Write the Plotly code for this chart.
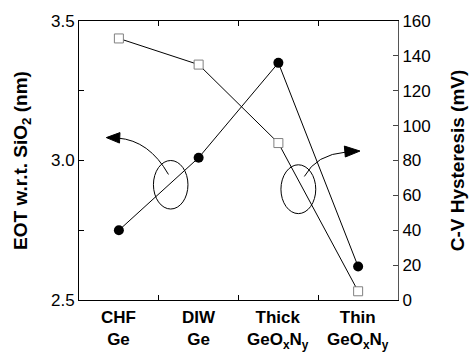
import plotly.graph_objects as go

categories = ["CHF<br>Ge", "DIW<br>Ge", "Thick<br>GeO<sub>x</sub>N<sub>y</sub>", "Thin<br>GeO<sub>x</sub>N<sub>y</sub>"]
eot_nm = [2.75, 3.01, 3.35, 2.62]
hysteresis_mv = [150, 135, 90, 5]
eot_ticks = [2.5, 2.75, 3.0, 3.25, 3.5]
eot_ticklabels = ["2.5", "", "3.0", "", "3.5"]

W, H = 476, 356
L, R, T, B = 79, 406, 20, 300

FONT = "Liberation Sans, Arial, sans-serif"

xpos = list(range(len(categories)))
boundaries = [i + 0.5 for i in xpos[:-1]]
xrange_ = [-0.5, len(categories) - 0.5]

fig = go.Figure()
fig.add_trace(go.Scatter(
    x=xpos, y=hysteresis_mv, yaxis="y2", mode="lines+markers",
    line=dict(color="black", width=1),
    marker=dict(symbol="square", size=9, color="white", line=dict(color="#808080", width=1)),
    showlegend=False, cliponaxis=False))
fig.add_trace(go.Scatter(
    x=xpos, y=eot_nm, mode="lines+markers",
    line=dict(color="black", width=1),
    marker=dict(symbol="circle", size=10, color="black"),
    showlegend=False, cliponaxis=False))


def P(px, py):
    return (px - L) / (R - L), (B - py) / (B - T)


shapes = []
for (x0, x1, y0, y1) in [(155.3, 190.7, 160, 208.7), (286, 321.7, 164.3, 213.3)]:
    a = P(x0, y1)
    b = P(x1, y0)
    shapes.append(dict(type="circle", xref="paper", yref="paper", x0=a[0], y0=a[1], x1=b[0], y1=b[1],
                       line=dict(color="black", width=1)))


def qpath(p0, c, p1):
    a, b, d = P(*p0), P(*c), P(*p1)
    return f"M {a[0]},{a[1]} Q {b[0]},{b[1]} {d[0]},{d[1]}"


def tri(p0, p1, p2):
    a, b, c = P(*p0), P(*p1), P(*p2)
    return f"M {a[0]},{a[1]} L {b[0]},{b[1]} L {c[0]},{c[1]} Z"


shapes.append(dict(type="path", xref="paper", yref="paper", path=qpath((170.7, 174), (151, 140), (119, 137.5)),
                   line=dict(color="black", width=1)))
shapes.append(dict(type="path", xref="paper", yref="paper", path=tri((107, 137), (121, 132), (120.5, 142.5)),
                   fillcolor="black", line=dict(color="black", width=1)))
shapes.append(dict(type="path", xref="paper", yref="paper", path=qpath((310, 176), (322, 154), (353, 151.5)),
                   line=dict(color="black", width=1)))
shapes.append(dict(type="path", xref="paper", yref="paper", path=tri((367, 150.5), (351, 145.5), (352, 156.5)),
                   fillcolor="black", line=dict(color="black", width=1)))

annotations = [
    dict(x=xp, y=P(0, 306)[1], xref="x", yref="paper", text=f"<b>{lab.replace('<br>', '</b><br><b>')}</b>",
         showarrow=False, xanchor="center", yanchor="top", align="center",
         font=dict(family=FONT, size=17, color="black"))
    for xp, lab in zip(xpos, categories)
]

fig.update_layout(
    width=W, height=H,
    margin=dict(l=L, r=W - R, t=T, b=H - B, pad=0),
    paper_bgcolor="white", plot_bgcolor="white",
    font=dict(family=FONT, color="black"),
    shapes=shapes,
    annotations=annotations,
    xaxis=dict(
        range=xrange_, tickvals=boundaries, showticklabels=False,
        ticks="inside", ticklen=5, tickcolor="black", tickwidth=1,
        showline=True, linecolor="black", linewidth=1, mirror="ticks",
        showgrid=False, zeroline=False,
    ),
    yaxis=dict(
        range=[2.5, 3.5], tickvals=eot_ticks, ticktext=eot_ticklabels,
        ticks="inside", ticklen=5, tickcolor="black",
        showline=True, linecolor="black", linewidth=1,
        showgrid=False, zeroline=False,
        tickfont=dict(family=FONT, size=17, color="black"),
        title=dict(text="EOT w.r.t. SiO<sub>2</sub> (nm)", font=dict(family=FONT, size=19, weight="bold"), standoff=18),
    ),
    yaxis2=dict(
        overlaying="y", side="right", range=[0, 160], dtick=20,
        ticks="inside", ticklen=5, tickcolor="#444",
        showline=True, linecolor="#555", linewidth=1,
        showgrid=False, zeroline=False,
        tickfont=dict(family=FONT, size=17, color="black"),
        title=dict(text="C-V Hysteresis (mV)", font=dict(family=FONT, size=19, weight="bold"), standoff=20),
    ),
)

fig.write_html("out.html")
